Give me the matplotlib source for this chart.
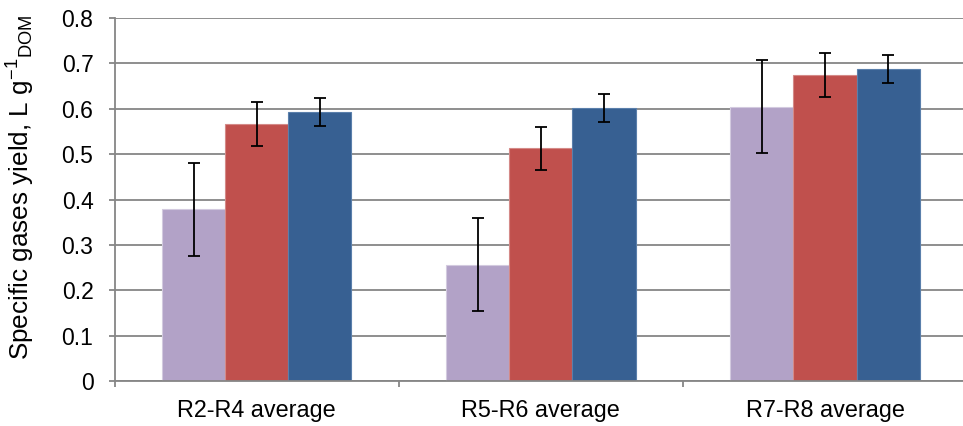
import matplotlib
matplotlib.use("Agg")
import matplotlib.pyplot as plt
import numpy as np

plt.rcParams['font.family'] = ['Liberation Sans', 'DejaVu Sans']
plt.rcParams['mathtext.default'] = 'regular'

categories = ["R2-R4 average", "R5-R6 average", "R7-R8 average"]
series_a = [0.379, 0.257, 0.605]
series_a_err = [0.102, 0.102, 0.102]
series_b = [0.566, 0.513, 0.675]
series_b_err = [0.048, 0.048, 0.048]
series_c = [0.593, 0.601, 0.688]
series_c_err = [0.031, 0.031, 0.031]
ytick_labels = ["0", "0.1", "0.2", "0.3", "0.4", "0.5", "0.6", "0.7", "0.8"]

colors = ["#B2A2C7", "#C0504D", "#376092"]
edges = ["#D3CADF", "#D48A88", "#5A7FAB"]

fig = plt.figure(figsize=(9.63, 4.26), dpi=100)
ax = fig.add_axes([114.7 / 963, 44.7 / 426, 852.3 / 963, 363.3 / 426])

x = np.arange(len(categories))
w = 0.2222
grid_c = "#868686"

for i, (vals, errs) in enumerate([(series_a, series_a_err), (series_b, series_b_err), (series_c, series_c_err)]):
    ax.bar(x + (i - 1) * w, vals, width=w, color=colors[i], edgecolor=edges[i], linewidth=0.8,
           yerr=errs, error_kw=dict(ecolor="black", elinewidth=1.3, capsize=4.5, capthick=1.3), zorder=2)

ax.set_xlim(-0.5, 2.5)
ax.set_ylim(0, 0.8)
ax.set_yticks(np.arange(len(ytick_labels)) * 0.1)
ax.set_yticklabels(ytick_labels)
ax.yaxis.grid(True, color=grid_c, linewidth=1.3)
ax.set_axisbelow(True)

ax.set_xticks([-0.5, 0.5, 1.5, 2.5])
ax.set_xticklabels([])
ax.set_xticks(x, minor=True)
ax.set_xticklabels(categories, minor=True)
ax.tick_params(axis='x', which='major', direction='out', length=4.3, width=1.3, color=grid_c)
ax.tick_params(axis='x', which='minor', length=0, pad=13, labelsize=16.8)
ax.tick_params(axis='y', direction='out', length=4.3, width=1.3, color=grid_c, pad=11, labelsize=16.5)

for s in ['top', 'right']:
    ax.spines[s].set_visible(False)
for s in ['left', 'bottom']:
    ax.spines[s].set_color(grid_c)
    ax.spines[s].set_linewidth(1.3)

ax.set_ylabel(r"Specific gases yield, L g$^{-1}{}_{DOM}$", fontsize=18.8, va='center')
ax.yaxis.set_label_coords((21 - 114.7) / 852.3, 0.535)

fig.savefig("out.png", dpi=100)
